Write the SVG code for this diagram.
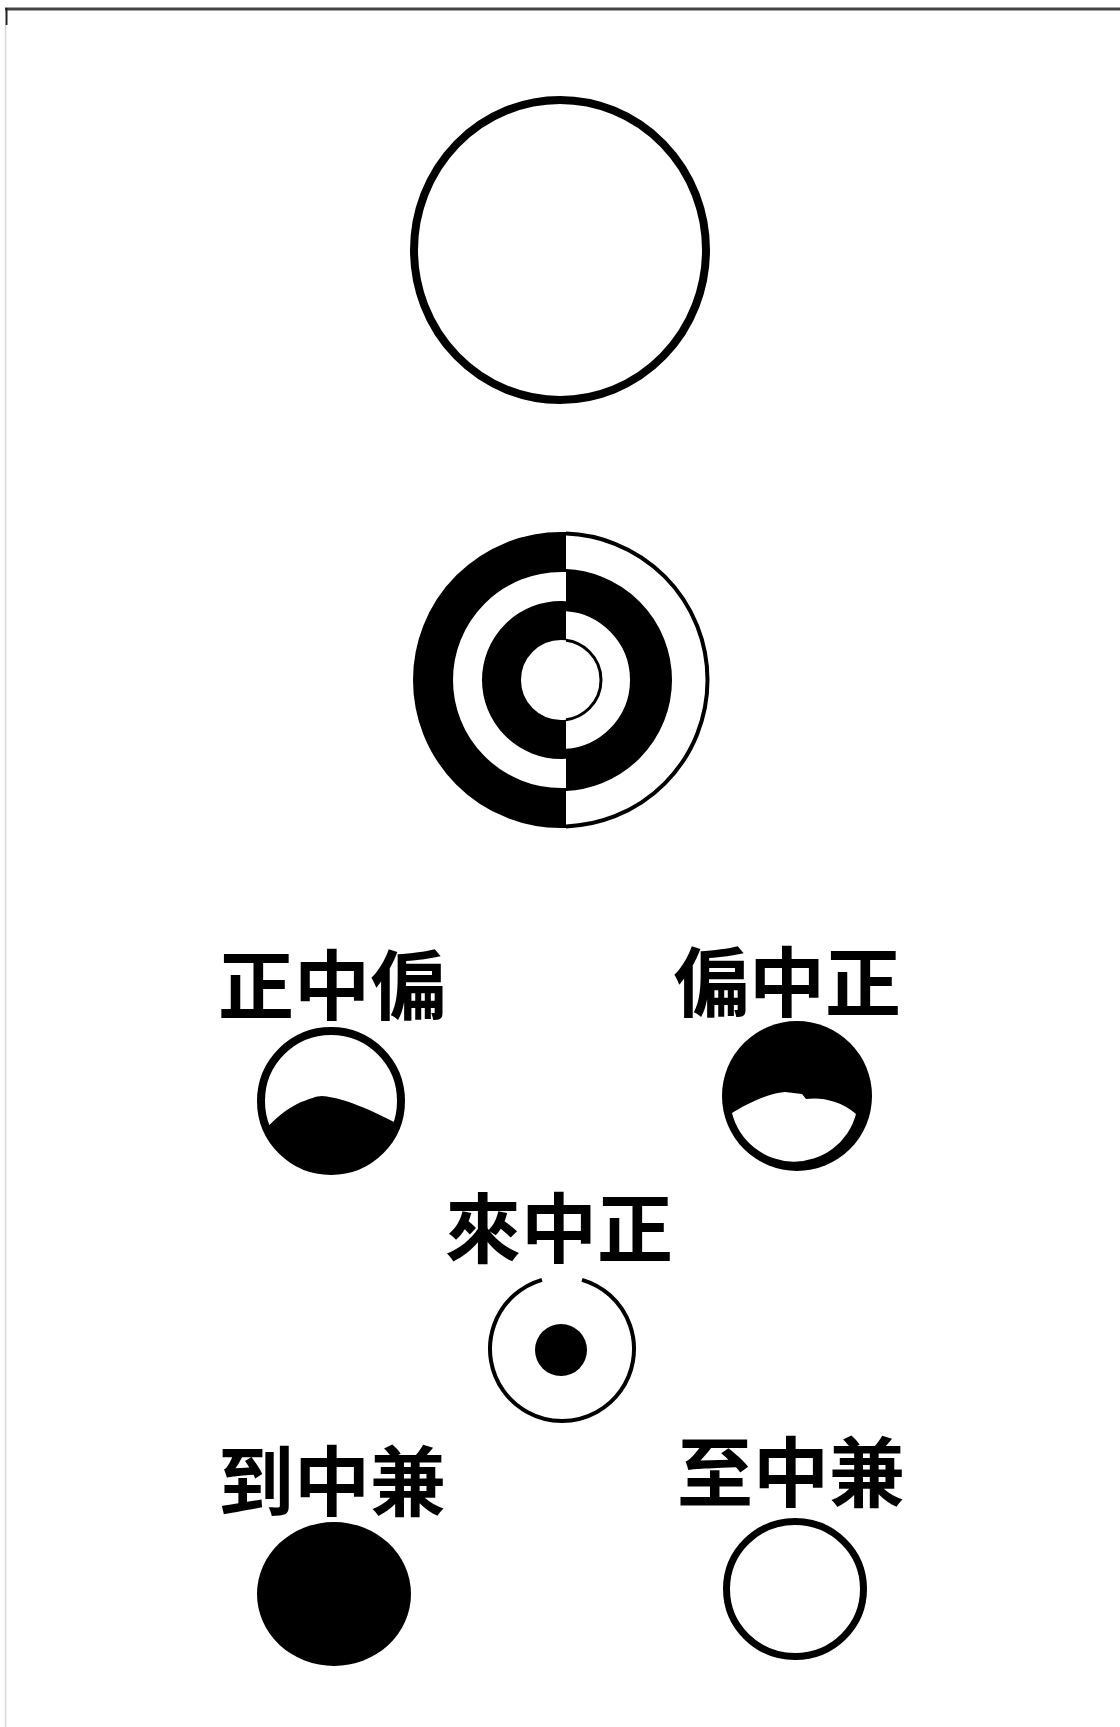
<svg xmlns="http://www.w3.org/2000/svg" width="1120" height="1727" viewBox="0 0 1120 1727">
  <style>
    .label { font-family: "Noto Sans CJK TC", "Noto Sans CJK SC", sans-serif; font-weight: 700; font-size: 76px; text-anchor: middle; fill: #000; }
    .ink { fill: none; stroke: #000; }
    .solid { fill: #000; stroke: none; }
  </style>
  <defs>
    <clipPath id="leftHalf"><rect x="0" y="500" width="566" height="360"/></clipPath>
    <clipPath id="rightHalf"><rect x="566" y="500" width="554" height="360"/></clipPath>
  </defs>
  <rect x="0" y="0" width="1120" height="1727" fill="#fff"/>
  <g id="frame">
    <line x1="5" y1="9" x2="1120" y2="9" stroke="#444" stroke-width="3"/>
    <line x1="6.5" y1="8" x2="6.5" y2="25" stroke="#222" stroke-width="2"/>
    <line x1="5.5" y1="25" x2="5.5" y2="1727" stroke="#d8d8d8" stroke-width="1.5"/>
  </g>
  <g id="wuji">
    <ellipse class="ink" cx="560" cy="250" rx="146" ry="150" stroke-width="8"/>
  </g>
  <g id="taiji">
    <g clip-path="url(#leftHalf)">
      <circle class="ink" cx="561" cy="680" r="128" stroke-width="40"/>
      <circle class="ink" cx="561" cy="680" r="59.5" stroke-width="39"/>
    </g>
    <g clip-path="url(#rightHalf)">
      <circle class="ink" cx="561" cy="680" r="146.5" stroke-width="4"/>
      <circle class="ink" cx="561" cy="680" r="90" stroke-width="42"/>
      <circle class="ink" cx="561" cy="680" r="40" stroke-width="3"/>
    </g>
  </g>
  <g id="zheng-zhong-pian">
    <text class="label" x="332" y="1014">正中偏</text>
    <path class="solid" d="M 265,1130 C 275,1118 288,1108 301,1102 C 310,1099 316,1096 322,1096 C 335,1097 350,1102 362,1107 C 372,1111 384,1117 396,1123 A 70 70 0 0 1 265,1130 Z"/>
    <circle class="ink" cx="331" cy="1101" r="70" stroke-width="8"/>
  </g>
  <g id="pian-zhong-zheng">
    <text class="label" x="787" y="1011">偏中正</text>
    <circle class="solid" cx="797" cy="1096" r="75"/>
    <path fill="#fff" d="M 732,1113 C 745,1105 765,1094 785,1092 L 802,1094 L 806,1099 C 820,1097 840,1100 856,1114 A 64 64 0 0 1 732,1113 Z"/>
  </g>
  <g id="lai-zhong-zheng">
    <text class="label" x="559" y="1257">來中正</text>
    <path class="ink" stroke-width="4" d="M 582,1279.8 A 72 72 0 1 1 542,1279.8"/>
    <circle class="solid" cx="561" cy="1350" r="26"/>
  </g>
  <g id="dao-zhong-jian">
    <text class="label" x="332" y="1510">到中兼</text>
    <ellipse class="solid" cx="334" cy="1594" rx="77" ry="72"/>
  </g>
  <g id="zhi-zhong-jian">
    <text class="label" x="791" y="1501">至中兼</text>
    <ellipse class="ink" cx="795" cy="1589" rx="68.5" ry="67.5" stroke-width="7"/>
  </g>
  <g id="connectors"/>
</svg>
